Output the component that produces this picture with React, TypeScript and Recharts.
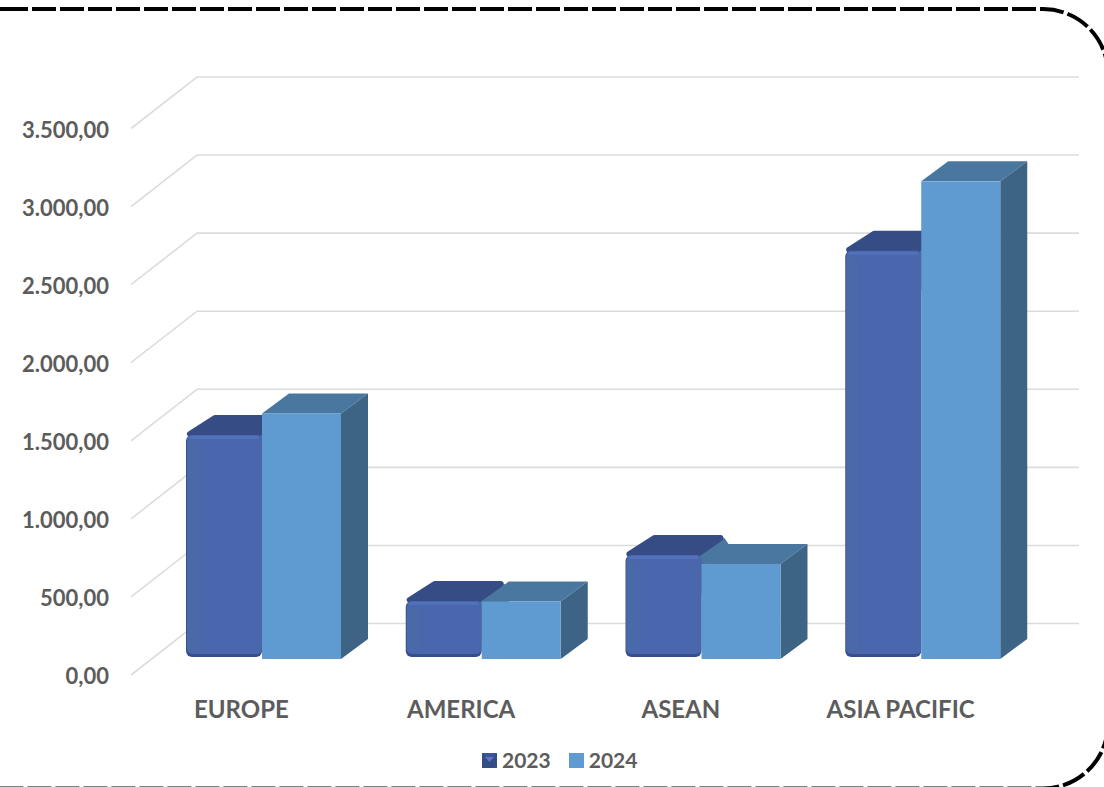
import React from "react";
import { BarChart, Bar, XAxis, YAxis, CartesianGrid, Legend } from "recharts";

const categories = ["EUROPE", "AMERICA", "ASEAN", "ASIA PACIFIC"];
const values2023 = [1435, 372, 666, 2614];
const values2024 = [1573, 368, 609, 3059];
const yTicks = [0, 500, 1000, 1500, 2000, 2500, 3000, 3500];

const chartData = categories.map((name, i) => ({
  name,
  v2023: values2023[i],
  v2024: values2024[i],
}));

const TEXT = "#5C5C5C";
const FONT = "Lato, 'Open Sans', sans-serif";
const DX = 27;
const DY = 20;

const fmt = (v: number) =>
  v.toLocaleString("de-DE", { minimumFractionDigits: 2, maximumFractionDigits: 2 });

function Bar2023(props: any) {
  const { x, y, width, height } = props;
  const left = x + 3;
  const w = width - 3;
  const bottom = y + height - 2;
  const h = bottom - y;
  const tx = left + 4;
  const r = x + width;
  const topPts = `${tx},${y - 1} ${r - 4},${y - 1} ${r + DX - 8},${y - DY + 3} ${tx + DX - 2},${y - DY + 3}`;
  return (
    <g>
      <polygon
        points={`${r - 4},${y} ${r + DX - 4},${y - DY + 3} ${r + DX},${y - DY + 9} ${r + DX},${y + 40} ${r},${y + 40}`}
        fill="#4A779F"
      />
      <polygon points={topPts} fill="#364C84" stroke="#364C84" strokeWidth={6} strokeLinejoin="round" />
      <rect x={left} y={y} width={w} height={h} rx={6} fill="#384E88" />
      <rect x={left + 1} y={y} width={w - 1} height={h - 3} rx={5} fill="#4A66AD" />
      <rect x={left + 3} y={y + 1} width={w - 6} height={3} rx={1.5} fill="#5371BB" />
      <rect x={left + 1} y={y + 6} width={13} height={Math.max(h - 12, 0)} fill="#4A69A9" />
    </g>
  );
}

function Bar2024(props: any) {
  const { x, y, width, height } = props;
  const r = x + width;
  const b = y + height;
  return (
    <g>
      <polygon points={`${x},${y} ${r},${y} ${r + DX},${y - DY} ${x + DX},${y - DY}`} fill="#4A779F" />
      <polygon points={`${r},${y} ${r + DX},${y - DY} ${r + DX},${b - DY} ${r},${b}`} fill="#3D6484" />
      <rect x={x} y={y} width={width} height={height} fill="#5F9BD1" />
    </g>
  );
}

const GridLine = (props: any) => {
  const { x1, x2, y1 } = props;
  return (
    <polyline
      key={`g-${y1}`}
      points={`${x1 - 21},${y1 + 16} ${x1 + 45},${y1 - 35.5} ${x2 + 48},${y1 - 35.5}`}
      fill="none"
      stroke="#DCDCDC"
      strokeWidth={1.6}
    />
  );
};

const YTick = (props: any) => (
  <text x={109} y={props.y + 25} textAnchor="end" fill={TEXT} fontFamily={FONT} fontWeight={700} fontSize={22}>
    {fmt(props.payload.value)}
  </text>
);

const XTick = (props: any) => (
  <text x={props.x - 20.5} y={718} textAnchor="middle" fill={TEXT} fontFamily={FONT} fontWeight={700} fontSize={24}>
    {props.payload.value}
  </text>
);

const LegendBox = ({ payload }: any) => (
  <div style={{ display: "flex", alignItems: "center", height: 24 }}>
    {(payload || []).map((p: any, i: number) => (
      <div key={p.value} style={{ display: "flex", alignItems: "center", marginRight: 18 }}>
        <svg width={15} height={15} style={{ display: "block", marginRight: 5 }}>
          {i === 0 ? (
            <g>
              <rect width={15} height={15} fill="#364C84" />
              <polygon points="0,0 15,0 7.5,8" fill="#3A5496" />
              <polygon points="3,4 12,4 7.5,9" fill="#5878C6" />
            </g>
          ) : (
            <rect width={15} height={15} fill="#5F9BD1" />
          )}
        </svg>
        <span style={{ fontFamily: FONT, fontWeight: 700, fontSize: 21, color: TEXT, lineHeight: "24px" }}>{p.value}</span>
      </div>
    ))}
  </div>
);

export default function App() {
  return (
    <div style={{ position: "absolute", left: 0, top: 0, width: 1104, height: 787, overflow: "hidden", background: "#fff" }}>
      <svg width={1104} height={787} style={{ position: "absolute", left: 0, top: 0 }}>
        <path
          d="M0 9H4 M4 9H1043A65 65 0 0 1 1108 74V723.5A65 65 0 0 1 1043 788.5H0"
          fill="none"
          stroke="#000"
          strokeWidth={4}
          strokeDasharray="24 4"
        />
      </svg>
      <div style={{ position: "absolute", left: 0, top: 0 }}>
        <BarChart
          width={1104}
          height={787}
          data={chartData}
          barSize={79}
          barGap={0}
          margin={{ top: 112.5, right: 73, bottom: 127, left: 0 }}
        >
          <CartesianGrid vertical={false} horizontal={GridLine as any} />
          <XAxis dataKey="name" height={1} axisLine={false} tickLine={false} tick={XTick as any} interval={0} />
          <YAxis width={152} domain={[0, 3500]} ticks={yTicks} axisLine={false} tickLine={false} tick={YTick as any} />
          <Legend
            layout="horizontal"
            verticalAlign="middle"
            align="center"
            content={LegendBox as any}
            wrapperStyle={{ left: 482, top: 748, width: 200, height: 24 }}
          />
          <Bar dataKey="v2023" name="2023" fill="#4A66AD" isAnimationActive={false} shape={Bar2023 as any} />
          <Bar dataKey="v2024" name="2024" fill="#5F9BD1" isAnimationActive={false} shape={Bar2024 as any} />
        </BarChart>
      </div>
    </div>
  );
}
